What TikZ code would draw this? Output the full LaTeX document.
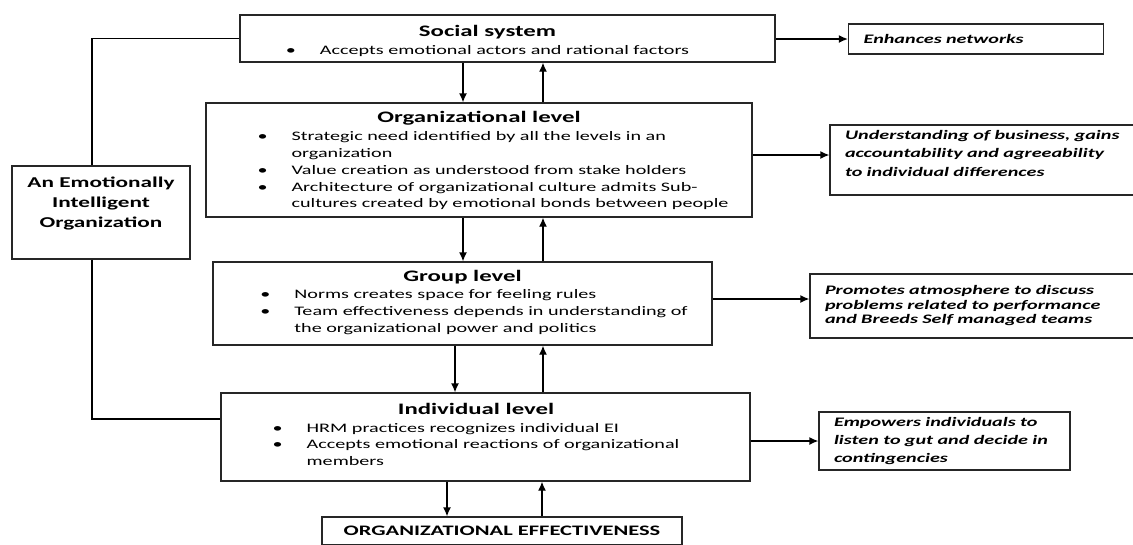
\documentclass[tikz,border=0pt]{standalone}
\usepackage{fontspec}
\setmainfont{Carlito}[FakeStretch=1.55]
\usetikzlibrary{arrows.meta}
\newcommand{\lvltitle}{\fontsize{16}{19}\selectfont\bfseries}
\newcommand{\lvlfont}{\fontsize{13}{16.7}\selectfont}
\newcommand{\fxfont}[1][16]{\fontsize{13}{#1}\selectfont\bfseries\itshape}
\newcommand{\eifont}{\fontsize{15}{20}\selectfont\bfseries}
\newcommand{\oefont}{\fontsize{14.5}{17}\selectfont\bfseries}

\begin{document}
\begin{tikzpicture}[x=1pt,y=-1pt,>={Latex[length=9pt,width=8pt]},lvlbox/.style={draw=black!85,line width=1.3pt,inner sep=0pt,align=center,font=\lvlfont},fxbox/.style={draw=black!85,line width=1.3pt,inner xsep=15pt,inner ysep=0pt,align=left,font=\fxfont},link/.style={->,line width=1.3pt},tie/.style={line width=1.3pt}]
\path[use as bounding box,fill=white] (0,0) rectangle (1133,544);
% the four levels
\node[lvlbox,minimum width=535pt,minimum height=47pt] (social) at (507.5,38.5) {{\hspace*{-40pt}\rule{0pt}{19pt}\lvltitle Social system}\\[2pt]\hspace*{-40pt}\begin{tabular}[t]{@{}c@{\hspace{24pt}}l@{}}\textbullet & Accepts emotional actors and rational factors\end{tabular}};
\node[lvlbox,minimum width=546pt,minimum height=114pt] (org) at (479,160) {{\rule{0pt}{15pt}\lvltitle Organizational level}\\[2pt]\hspace*{28pt}\begin{tabular}[t]{@{}c@{\hspace{24pt}}l@{}}\textbullet & Strategic need identified by all the levels in an\\ & organization\\ \textbullet & Value creation as understood from stake holders\\ \textbullet & Architecture of organizational culture admits Sub-\\ & cultures created by emotional bonds between people\end{tabular}};
\node[lvlbox,minimum width=499pt,minimum height=83pt] (group) at (462.5,303.5) {{\lvltitle Group level}\\[1pt]\hspace*{23pt}\begin{tabular}[t]{@{}c@{\hspace{24pt}}l@{}}\textbullet & Norms creates space for feeling rules\\ \textbullet & Team effectiveness depends in understanding of\\ & the organizational power and politics\end{tabular}};
\node[lvlbox,minimum width=529pt,minimum height=88pt] (indiv) at (485.5,437) {{\hspace*{-19pt}\lvltitle Individual level}\\[1pt]\hspace*{-19pt}\begin{tabular}[t]{@{}c@{\hspace{24pt}}l@{}}\textbullet & HRM practices recognizes individual EI\\ \textbullet & Accepts emotional reactions of organizational\\ & members\end{tabular}};
\node[lvlbox,minimum width=360pt,minimum height=28pt,font=\oefont] (oe) at (502,531) {ORGANIZATIONAL EFFECTIVENESS};
\node[lvlbox,minimum width=178pt,minimum height=93pt,font=\eifont] (ei) at (101,212.5) {An Emotionally\\Intelligent\\Organization\rule[-20pt]{0pt}{0pt}};
% outcomes on the right
\node[fxbox,text width=225pt,minimum height=30pt] (enh) at (976,39) {Enhances networks};
\node[fxbox,text width=285pt,minimum height=70pt,font={\fxfont[18.5]}] (und) at (987.5,160) {Understanding of business, gains\\accountability and agreeability\\to individual differences\rule[-14pt]{0pt}{0pt}};
\node[fxbox,text width=305pt,minimum height=64pt,font={\fxfont[14.5]}] (prom) at (977.5,306) {Promotes atmosphere to discuss\\problems related to performance\\and Breeds Self managed teams};
\node[fxbox,text width=221pt,minimum height=58pt,font={\fxfont[18]}] (emp) at (944.5,441) {Empowers individuals to\\listen to gut and decide in\\contingencies};
\draw[link] (social.east |- enh.west) -- (enh.west);
\draw[link] ([yshift=5pt]und.west -| org.east) -- ([yshift=5pt]und.west);
\draw[link] ([yshift=7pt]prom.west -| group.east) -- ([yshift=7pt]prom.west);
\draw[link] (indiv.east |- emp.west) -- (emp.west);
% down and up between levels
\foreach \a/\b/\dn/\up in {social/org/463/543,org/group/463/543,group/indiv/455/543,indiv/oe/447/542}{
  \draw[link] (\a.south -| \dn,0) -- (\b.north -| \dn,0);
  \draw[link] (\b.north -| \up,0) -- (\a.south -| \up,0);
}
\draw[tie] ([xshift=-9pt]ei.north) |- (social.west);
\draw[tie] ([xshift=-9pt]ei.south) |- ([yshift=18pt]indiv.west);
\end{tikzpicture}
\end{document}
